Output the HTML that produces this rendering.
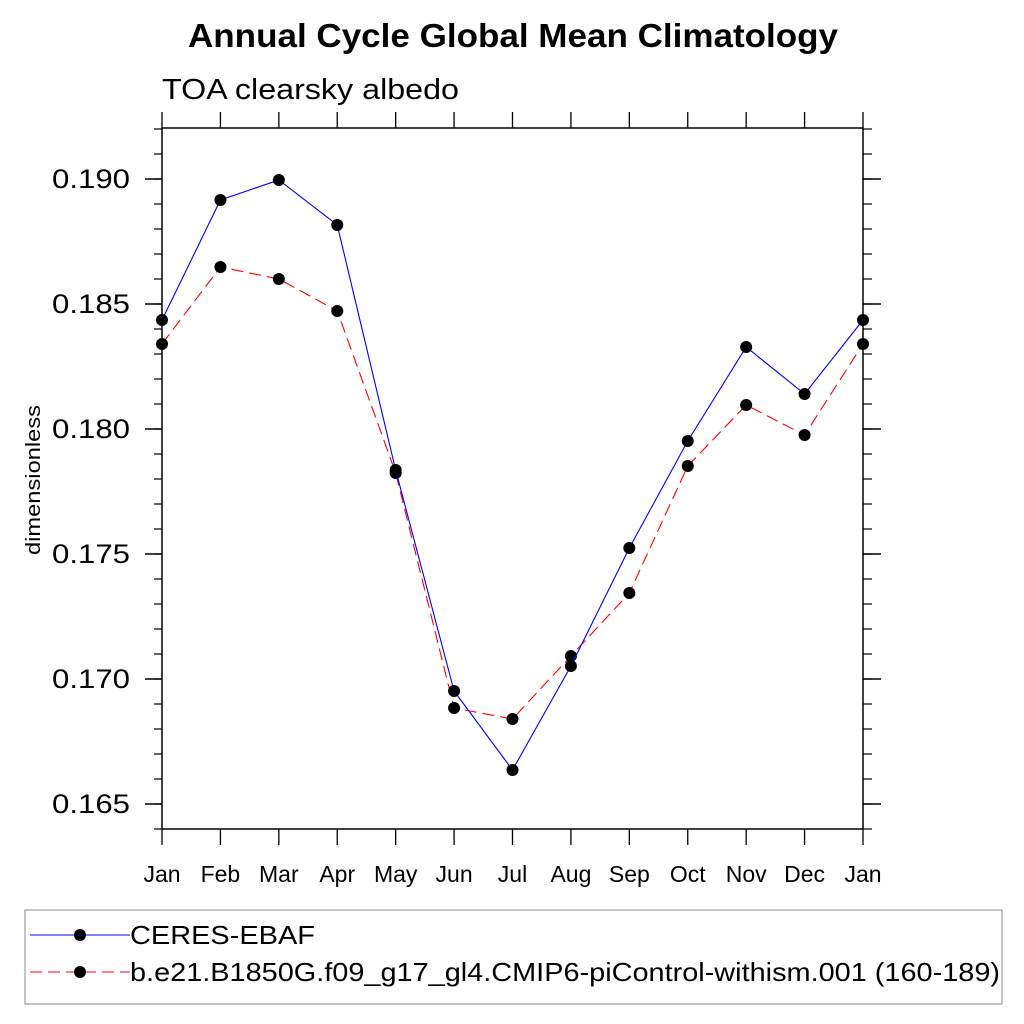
<!DOCTYPE html>
<html><head><meta charset="utf-8"><style>
body{margin:0;background:#fff;}
svg{display:block;font-family:"Liberation Sans",sans-serif;}
</style></head><body>
<svg id="chart" width="1024" height="1024">
<text x="188" y="47" font-size="33" font-weight="bold" textLength="650" lengthAdjust="spacingAndGlyphs">Annual Cycle Global Mean Climatology</text>
<text x="162" y="99" font-size="29" textLength="297" lengthAdjust="spacingAndGlyphs">TOA clearsky albedo</text>
<text transform="translate(40,480) rotate(-90)" x="-75" y="0" font-size="20" textLength="150" lengthAdjust="spacingAndGlyphs">dimensionless</text>
<g id="axes"></g>
<g id="series"></g>
<rect x="25" y="910" width="977" height="94" fill="none" stroke="#888" stroke-width="1"/>
<g>
<line x1="30" y1="935" x2="130" y2="935" stroke="#0000ff" stroke-width="1"/>
<circle cx="80" cy="935" r="6" fill="#000"/>
<text x="130" y="944" font-size="26" textLength="185" lengthAdjust="spacingAndGlyphs">CERES-EBAF</text>
</g>
<g>
<line x1="30" y1="972" x2="130" y2="972" stroke="#ff0000" stroke-width="1" stroke-dasharray="12,6"/>
<circle cx="80" cy="972" r="6" fill="#000"/>
<text x="130" y="981" font-size="26" textLength="870" lengthAdjust="spacingAndGlyphs">b.e21.B1850G.f09_g17_gl4.CMIP6-piControl-withism.001 (160-189)</text>
</g>
</svg>
<script>
const months=["Jan","Feb","Mar","Apr","May","Jun","Jul","Aug","Sep","Oct","Nov","Dec","Jan"];
const ceres=[0.18436,0.18916,0.18996,0.18816,0.17836,0.16952,0.16636,0.17052,0.17524,0.17952,0.18328,0.1814,0.18436];
const model=[0.1834,0.18648,0.186,0.18472,0.17824,0.16884,0.1684,0.17092,0.17344,0.17852,0.18096,0.17976,0.1834];
const yTicks=[0.165,0.170,0.175,0.180,0.185,0.190];
const yTickLabels=["0.165","0.170","0.175","0.180","0.185","0.190"];
const L=162,R=863,T=128,B=829,ymin=0.164,ymax=0.19204;
const NS="http://www.w3.org/2000/svg";
function xs(i){return L+(R-L)*i/12;}
function ys(v){return B-(v-ymin)/(ymax-ymin)*(B-T);}
function mk(tag,attrs,parent){const e=document.createElementNS(NS,tag);for(const k in attrs)e.setAttribute(k,attrs[k]);parent.appendChild(e);return e;}
const ax=document.getElementById('axes');
const frame=mk('rect',{x:L,y:T,width:R-L,height:B-T,fill:'none',stroke:'#000','stroke-width':1.5},ax);


months.forEach((m,i)=>{
  const x=xs(i);
  mk('line',{x1:x,y1:B,x2:x,y2:B+16,stroke:'#000','stroke-width':1.3},ax);
  mk('line',{x1:x,y1:T,x2:x,y2:T-16,stroke:'#000','stroke-width':1.3},ax);
  const t=mk('text',{x:x,y:882,'text-anchor':'middle','font-size':23},ax);
  t.textContent=m;
  
  
});
for(let k=0;k<=28;k++){
  const v=0.164+k*0.001;if(v>ymax+1e-9)break;
  const y=ys(v);
  mk('line',{x1:L-8,y1:y,x2:L,y2:y,stroke:'#000','stroke-width':1.2},ax);
  mk('line',{x1:R,y1:y,x2:R+9,y2:y,stroke:'#000','stroke-width':1.2},ax);
}
yTicks.forEach((v,i)=>{
  const y=ys(v);
  mk('line',{x1:L-17,y1:y,x2:L,y2:y,stroke:'#000','stroke-width':1.5},ax);
  mk('line',{x1:R,y1:y,x2:R+18,y2:y,stroke:'#000','stroke-width':1.5},ax);
  const t=mk('text',{x:52,y:y+9,'font-size':27,textLength:78,lengthAdjust:'spacingAndGlyphs'},ax);
  t.textContent=yTickLabels[i];
  
  
});
const sg=document.getElementById('series');
function draw(vals,color,dash,name){
  const g=mk('g',{},sg);
  
  
  const pts=vals.map((v,i)=>xs(i)+','+ys(v)).join(' ');
  const pl=mk('polyline',{points:pts,fill:'none',stroke:color,'stroke-width':1.1},g);
  if(dash)pl.setAttribute('stroke-dasharray',dash);
  vals.forEach((v,i)=>{
    const c=mk('circle',{cx:xs(i),cy:ys(v),r:6,fill:'#000'},g);
    
    
  });
}
draw(model,'#ff0000','12,6','series-model');
draw(ceres,'#0000ff',null,'series-ceres');
</script>
</body></html>
